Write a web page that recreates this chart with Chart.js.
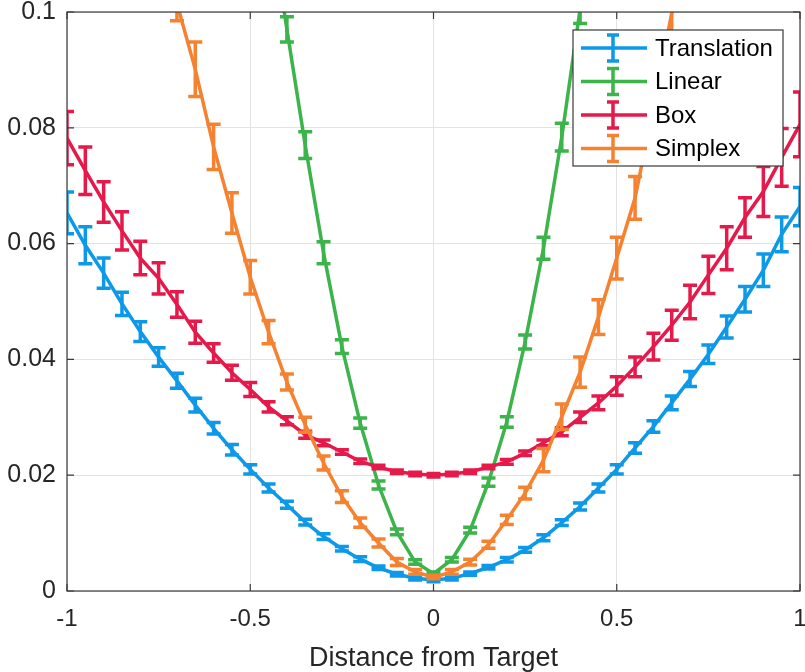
<!DOCTYPE html>
<html>
<head>
<meta charset="utf-8">
<script src="https://cdn.jsdelivr.net/npm/chart.js@4"></script>
<style>
  body { margin: 0; background: #fff; }
  #wrap { width: 805px; height: 672px; }
</style>
</head>
<body>
<div id="wrap"><canvas id="errChart" width="805" height="672"></canvas></div>
<script>
// distance from target
const xVals = [-1, -0.95, -0.9, -0.85, -0.8, -0.75, -0.7, -0.65, -0.6, -0.55, -0.5,
  -0.45, -0.4, -0.35, -0.3, -0.25, -0.2, -0.15, -0.1, -0.05, 0,
  0.05, 0.1, 0.15, 0.2, 0.25, 0.3, 0.35, 0.4, 0.45, 0.5,
  0.55, 0.6, 0.65, 0.7, 0.75, 0.8, 0.85, 0.9, 0.95, 1];

const seriesNames = ['Translation', 'Linear', 'Box', 'Simplex'];
const seriesColors = ['#0d99e8', '#3cb44b', '#e6194b', '#f58231'];

const translation = [0.0653, 0.0597, 0.0549, 0.0496, 0.0448, 0.0404, 0.0363, 0.0321, 0.0281, 0.0244, 0.0210,
  0.0178, 0.0149, 0.0119, 0.0094, 0.0073, 0.0055, 0.0040, 0.0029, 0.0022, 0.0019,
  0.0022, 0.0030, 0.0041, 0.0054, 0.0071, 0.0092, 0.0118, 0.0146, 0.0178, 0.0210,
  0.0247, 0.0284, 0.0325, 0.0366, 0.0409, 0.0456, 0.0504, 0.0554, 0.0616, 0.0664];
const translationErr = [0.0036, 0.0032, 0.0026, 0.0020, 0.0017, 0.0016, 0.0013, 0.0012, 0.0010, 0.0009, 0.0008,
  0.0007, 0.0006, 0.0005, 0.0005, 0.0004, 0.0004, 0.0003, 0.0003, 0.0003, 0.0003,
  0.0003, 0.0003, 0.0003, 0.0004, 0.0004, 0.0005, 0.0005, 0.0006, 0.0007, 0.0008,
  0.0009, 0.0010, 0.0012, 0.0013, 0.0016, 0.0019, 0.0022, 0.0028, 0.0030, 0.0033];

const linear = [null, null, null, null, null, null, null, null, null, null, null,
  0.118, 0.0970, 0.0770, 0.0584, 0.0422, 0.0290, 0.0183, 0.0102, 0.0050, 0.0030,
  0.0054, 0.0105, 0.0188, 0.0292, 0.0430, 0.0592, 0.0784, 0.1005, 0.124, null,
  null, null, null, null, null, null, null, null, null, null];
const linearErr = [0, 0, 0, 0, 0, 0, 0, 0, 0, 0, 0,
  0.0025, 0.0022, 0.0023, 0.0019, 0.0012, 0.0009, 0.0007, 0.0005, 0.0004, 0.0003,
  0.0004, 0.0005, 0.0007, 0.0009, 0.0012, 0.0019, 0.0024, 0.0025, 0.0025, 0,
  0, 0, 0, 0, 0, 0, 0, 0, 0, 0];

const box = [0.0782, 0.0726, 0.0672, 0.0622, 0.0575, 0.0540, 0.0495, 0.0447, 0.0411, 0.0377, 0.0348,
  0.0318, 0.0294, 0.0270, 0.0256, 0.0240, 0.0224, 0.0214, 0.0206, 0.0202, 0.0200,
  0.0202, 0.0206, 0.0214, 0.0223, 0.0238, 0.0256, 0.0275, 0.0300, 0.0325, 0.0354,
  0.0387, 0.0422, 0.0459, 0.0499, 0.0546, 0.0592, 0.0645, 0.0690, 0.0749, 0.0806];
const boxErr = [0.0046, 0.0041, 0.0035, 0.0033, 0.0029, 0.0027, 0.0022, 0.0019, 0.0016, 0.0013, 0.0012,
  0.0009, 0.0007, 0.0006, 0.0005, 0.0004, 0.0004, 0.0003, 0.0003, 0.0003, 0.0003,
  0.0003, 0.0003, 0.0003, 0.0004, 0.0004, 0.0005, 0.0007, 0.0009, 0.0012, 0.0016,
  0.0017, 0.0023, 0.0026, 0.0029, 0.0032, 0.0037, 0.0034, 0.0043, 0.0050, 0.0056];

const simplex = [null, null, null, null, null, 0.117, 0.1015, 0.0901, 0.0767, 0.0653, 0.0542,
  0.0447, 0.0361, 0.0287, 0.0221, 0.0163, 0.0118, 0.0083, 0.0050, 0.0033, 0.0024,
  0.0033, 0.0050, 0.0080, 0.0123, 0.0169, 0.0226, 0.0301, 0.0378, 0.0473, 0.0575,
  0.0679, 0.0835, 0.0998, 0.115, null, null, null, null, null, null];
const simplexErr = [0, 0, 0, 0, 0, 0.004, 0.003, 0.0047, 0.0039, 0.0035, 0.0029,
  0.0020, 0.0014, 0.0013, 0.0012, 0.0010, 0.0008, 0.0007, 0.0006, 0.0004, 0.0003,
  0.0004, 0.0005, 0.0006, 0.0008, 0.0010, 0.0020, 0.0022, 0.0026, 0.0030, 0.0036,
  0.0037, 0.0040, 0.0045, 0.0045, 0, 0, 0, 0, 0, 0];

const xTicks = [-1, -0.5, 0, 0.5, 1];
const xTickLabels = ['-1', '-0.5', '0', '0.5', '1'];
const yTicks = [0, 0.02, 0.04, 0.06, 0.08, 0.1];
const yTickLabels = ['0', '0.02', '0.04', '0.06', '0.08', '0.1'];

const FONT = "'Liberation Sans', Arial, Helvetica, sans-serif";
const TEXT = '#262626';

const allValues = [translation, linear, box, simplex];
const allErrors = [translationErr, linearErr, boxErr, simplexErr];

const datasets = seriesNames.map((name, k) => ({
  label: name,
  data: xVals.map((x, i) => ({ x: x, y: allValues[k][i] })),
  errors: allErrors[k],
  borderColor: seriesColors[k],
  backgroundColor: seriesColors[k],
  borderWidth: 3.5,
  pointRadius: 0,
  tension: 0,
  clip: 0,
  order: 4 - k   // later series drawn on top, like the original
}));

// vertical error bars with caps, drawn right after each line
const errorBars = {
  id: 'errorBars',
  afterDatasetDraw(chart, args) {
    const ds = chart.data.datasets[args.index];
    const { ctx, chartArea, scales } = chart;
    ctx.save();
    ctx.beginPath();
    ctx.rect(chartArea.left, chartArea.top, chartArea.right - chartArea.left, chartArea.bottom - chartArea.top);
    ctx.clip();
    ctx.strokeStyle = ds.borderColor;
    ctx.lineWidth = 3.5;
    ds.data.forEach((p, i) => {
      if (p.y == null) return;
      const e = ds.errors[i];
      const px = scales.x.getPixelForValue(p.x);
      const top = scales.y.getPixelForValue(p.y + e);
      const bot = scales.y.getPixelForValue(p.y - e);
      ctx.beginPath();
      ctx.moveTo(px, top); ctx.lineTo(px, bot);
      ctx.moveTo(px - 7, top); ctx.lineTo(px + 7, top);
      ctx.moveTo(px - 7, bot); ctx.lineTo(px + 7, bot);
      ctx.stroke();
    });
    ctx.restore();
  }
};

// axes box with inward ticks
const frame = {
  id: 'frame',
  afterDraw(chart) {
    const { ctx, chartArea: a, scales } = chart;
    ctx.save();
    ctx.strokeStyle = '#3a3a3a';
    ctx.lineWidth = 1.2;
    ctx.strokeRect(a.left, a.top, a.right - a.left, a.bottom - a.top);
    ctx.beginPath();
    xTicks.forEach(v => {
      const px = scales.x.getPixelForValue(v);
      ctx.moveTo(px, a.bottom); ctx.lineTo(px, a.bottom - 7);
      ctx.moveTo(px, a.top); ctx.lineTo(px, a.top + 7);
    });
    yTicks.forEach(v => {
      const py = scales.y.getPixelForValue(v);
      ctx.moveTo(a.left, py); ctx.lineTo(a.left + 7, py);
      ctx.moveTo(a.right, py); ctx.lineTo(a.right - 7, py);
    });
    ctx.stroke();
    ctx.restore();
  }
};

// legend box in the upper right corner, with error-bar glyphs
const legendBox = {
  id: 'legendBox',
  afterDraw(chart) {
    const ctx = chart.ctx;
    const bx = 573, by = 30, bw = 210, bh = 136;
    ctx.save();
    ctx.fillStyle = '#fff';
    ctx.fillRect(bx, by, bw, bh);
    ctx.strokeStyle = '#3a3a3a';
    ctx.lineWidth = 1.2;
    ctx.strokeRect(bx, by, bw, bh);
    ctx.font = '24px ' + FONT;
    ctx.textBaseline = 'middle';
    seriesNames.forEach((name, k) => {
      const cy = by + 18 + k * 33.5;
      ctx.strokeStyle = seriesColors[k];
      ctx.lineWidth = 3.5;
      ctx.beginPath();
      ctx.moveTo(bx + 8, cy); ctx.lineTo(bx + 74, cy);
      ctx.stroke();
      ctx.beginPath();
      ctx.moveTo(bx + 40, cy - 13); ctx.lineTo(bx + 40, cy + 13);
      ctx.moveTo(bx + 34, cy - 13); ctx.lineTo(bx + 46, cy - 13);
      ctx.moveTo(bx + 34, cy + 13); ctx.lineTo(bx + 46, cy + 13);
      ctx.stroke();
      ctx.fillStyle = '#000';
      ctx.fillText(name, bx + 82, cy + 1);
    });
    ctx.restore();
  }
};

const config = {
  type: 'line',
  data: { datasets: datasets },
  options: {
    responsive: false,
    animation: false,
    layout: { padding: { top: 12, right: 5, left: 0, bottom: 0 } },
    plugins: {
      legend: { display: false },
      tooltip: { enabled: false }
    },
    scales: {
      x: {
        type: 'linear',
        min: -1,
        max: 1,
        afterBuildTicks: s => { s.ticks = xTicks.map(v => ({ value: v })); },
        afterFit: s => { s.height = 81; s.paddingLeft = 0; s.paddingRight = 0; },
        ticks: {
          callback: (v) => xTickLabels[xTicks.indexOf(v)],
          font: { family: FONT, size: 24 },
          color: TEXT,
          padding: 14,
          maxRotation: 0
        },
        grid: { color: '#e3e3e3', lineWidth: 1, drawTicks: false },
        border: { display: false },
        title: {
          display: true,
          text: 'Distance from Target',
          font: { family: FONT, size: 27 },
          color: TEXT,
          padding: { top: 0, bottom: -3 }
        }
      },
      y: {
        type: 'linear',
        min: 0,
        max: 0.1,
        afterBuildTicks: s => { s.ticks = yTicks.map(v => ({ value: v })); },
        afterFit: s => { s.width = 67; s.paddingTop = 0; s.paddingBottom = 0; },
        ticks: {
          callback: (v) => yTickLabels[yTicks.indexOf(v)],
          font: { family: FONT, size: 25 },
          color: TEXT,
          padding: 11
        },
        grid: { color: '#e3e3e3', lineWidth: 1, drawTicks: false },
        border: { display: false }
      }
    }
  },
  plugins: [errorBars, frame, legendBox]
};

const errChart = new Chart(document.getElementById('errChart'), config);
</script>
</body>
</html>
